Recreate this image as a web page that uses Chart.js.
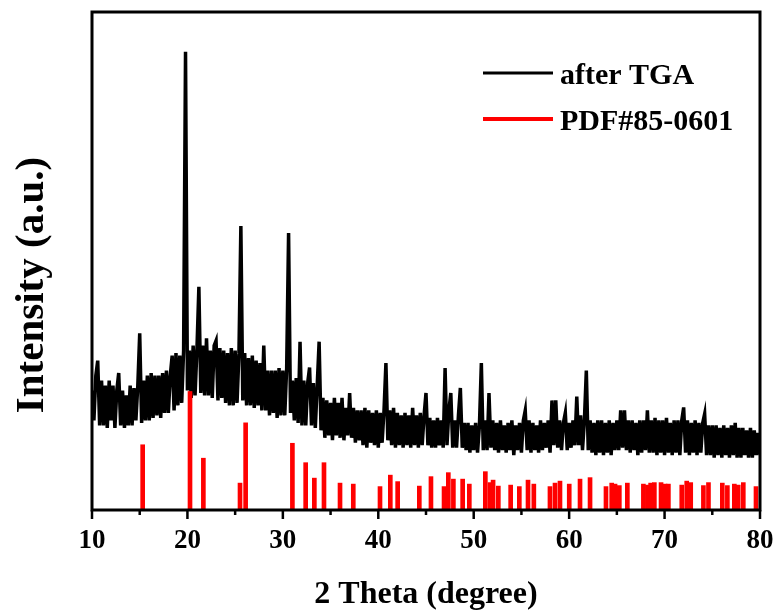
<!DOCTYPE html>
<html>
<head>
<meta charset="utf-8">
<script src="https://cdn.jsdelivr.net/npm/chart.js@4.4.1/dist/chart.umd.min.js"></script>
<style>
  html, body { margin: 0; padding: 0; background: #fff; }
  #chart { display: block; }
</style>
</head>
<body>
<canvas id="chart" width="779" height="614"></canvas>
<script>
// XRD pattern after TGA, one value every 0.2 degree from 10 to 80 (one row = one degree)
const thetaStart = 10;
const thetaStep = 0.2;
const afterTGA = [
  24, 18, 27, 30, 17,        // 10
  26, 17, 25, 16.5, 26,      // 11
  18, 25, 16.5, 24, 27.5,    // 12
  17, 24, 16.5, 23, 17,      // 13
  25, 17, 24.5, 18, 25,      // 14
  35.5, 17.5, 26, 18, 27,    // 15
  18, 27.5, 18.5, 27, 19,    // 16
  27, 18.5, 27.5, 19.5, 28,  // 17
  19.5, 27, 31, 20, 31.5,    // 18
  21, 31, 21.5, 32, 92,      // 19
  24, 32, 22.5, 33, 23,      // 20
  32.5, 44.8, 23.5, 33, 23,  // 21
  34.5, 23, 32, 22.5, 33,    // 22
  34, 22, 32.5, 22.5, 32,    // 23
  21.5, 31.5, 21, 32.5, 21,  // 24
  32, 21.5, 31.5, 57, 22,    // 25
  31.5, 21, 30.5, 21, 31,    // 26
  20.5, 30, 21, 29.5, 20,    // 27
  33, 20, 28, 19, 28,        // 28
  19.5, 28, 18.5, 28.5, 19,  // 29
  28, 19, 28.5, 55.6, 19.5,  // 30
  26, 18, 26.5, 17.5, 33.8,  // 31
  17, 26, 17, 25.5, 28.6,    // 32
  17, 25.5, 16.5, 25, 33.8,  // 33
  16, 22.5, 14.5, 22, 15,    // 34
  21.5, 14, 22.5, 15, 21.5,  // 35
  14.5, 22.5, 14, 20.5, 15,  // 36
  23.5, 14.5, 20.5, 13.5, 20,// 37
  14, 20, 13, 20.5, 12.5,    // 38
  20, 13.5, 19.5, 13, 20,    // 39
  12.5, 19.5, 13.5, 20, 29.5,// 40
  14, 20, 13, 20.5, 12.5,    // 41
  19.5, 13, 19, 12.5, 19.5,  // 42
  13, 19, 12.5, 20.5, 13,    // 43
  19, 12.5, 19.5, 13, 19,    // 44
  23.5, 13, 18.5, 12.5, 18,  // 45
  12.5, 18.5, 13, 18, 12.5,  // 46
  28.5, 13, 20, 23.5, 12.5,  // 47
  18, 12.5, 19, 24.5, 12.5,  // 48
  17.5, 12, 17.5, 11.5, 17,  // 49
  12, 17.5, 11.5, 17, 29.5,  // 50
  12, 18, 12, 23.5, 12.5,    // 51
  18, 12, 17.5, 11.5, 18,    // 52
  12, 17, 11.5, 17.5, 12,    // 53
  18, 11, 17, 12, 17.5,      // 54
  11.5, 18, 20, 12, 18,      // 55
  11.5, 17.5, 12, 17, 11.5,  // 56
  18, 12, 17.5, 12.5, 18,    // 57
  11.5, 22, 13, 22, 12.5,    // 58
  18, 12, 17.5, 19.5, 12,    // 59
  17.5, 12.5, 18, 13, 22.8,  // 60
  13, 19, 12, 18, 28,        // 61
  12, 18, 11.5, 17.5, 11,    // 62
  18, 11.5, 18, 11, 17.5,    // 63
  11.5, 18, 11, 17.5, 12,    // 64
  18, 12, 20, 12.5, 20,      // 65
  12, 18, 11.5, 18, 12,      // 66
  17.5, 11, 18, 11.5, 18,    // 67
  12, 20, 11.5, 18, 11.5,    // 68
  18.5, 11, 18, 11.5, 18,    // 69
  11, 18.5, 11.5, 17.5, 11,  // 70
  18, 11.5, 18, 11, 18,      // 71
  20.6, 11.5, 18, 11, 17.5,  // 72
  11.5, 18, 11, 17.5, 11.5,  // 73
  17.5, 19.3, 11, 17, 11,    // 74
  17, 10.5, 17, 11, 16.5,    // 75
  10.5, 17, 11, 16.5, 10.5,  // 76
  17, 11, 17.5, 10.5, 16.5,  // 77
  10.5, 16.5, 11, 16, 10.5,  // 78
  16.5, 10.5, 16, 11, 15.5,  // 79
  11                         // 80
];

// PDF#85-0601 reference lines
const pdfPositions = [
  15.31, 20.27, 21.67, 25.51, 26.1, 31.0, 32.39, 33.3, 34.31, 35.99,
  37.38, 40.18, 41.26, 42.03, 44.3, 45.52, 46.89, 47.34, 47.87, 48.84,
  49.54, 51.22, 51.71, 52.03, 52.58, 53.87, 54.78, 55.69, 56.3, 57.99,
  58.52, 59.04, 60.01, 61.14, 62.19, 63.86, 64.46, 64.81, 65.26, 66.1,
  67.78, 68.2, 68.54, 68.93, 69.63, 70.05, 70.4, 71.8, 72.32, 72.74,
  74.07, 74.6, 76.05, 76.58, 77.31, 77.72, 78.25, 79.58
];
const pdfIntensity = [
  13.1, 23.8, 10.4, 5.4, 17.5, 13.4, 9.5, 6.4, 9.5, 5.4,
  5.2, 4.7, 7.0, 5.7, 4.8, 6.7, 4.7, 7.5, 6.2, 6.2,
  5.2, 7.7, 5.5, 6.0, 4.8, 5.0, 4.7, 6.0, 5.2, 4.7,
  5.4, 5.8, 5.2, 6.2, 6.5, 4.7, 5.4, 5.2, 4.9, 5.4,
  5.2, 5.0, 5.4, 5.5, 5.5, 5.2, 5.2, 5.0, 5.8, 5.5,
  4.9, 5.5, 5.4, 4.9, 5.2, 5.0, 5.5, 4.7
];

const majorTicks = [10, 20, 30, 40, 50, 60, 70, 80];
const minorTicks = [15, 25, 35, 45, 55, 65, 75];
const seriesNames = ['after TGA', 'PDF#85-0601'];
const seriesColors = ['#000000', '#ff0000'];

const serif = '"Liberation Serif", "Times New Roman", serif';

// Frame, ticks, axis titles and legend
const framePlugin = {
  id: 'frame',
  afterDraw(chart) {
    const ctx = chart.ctx;
    const area = chart.chartArea;
    const xs = chart.scales.x;
    ctx.save();
    ctx.strokeStyle = '#000';
    ctx.lineWidth = 3;
    ctx.strokeRect(area.left, area.top, area.right - area.left, area.bottom - area.top);

    ctx.lineWidth = 2.5;
    majorTicks.forEach(v => {
      const px = xs.getPixelForValue(v);
      ctx.beginPath();
      ctx.moveTo(px, area.bottom);
      ctx.lineTo(px, area.bottom + 9);
      ctx.stroke();
    });
    minorTicks.forEach(v => {
      const px = xs.getPixelForValue(v);
      ctx.beginPath();
      ctx.moveTo(px, area.bottom);
      ctx.lineTo(px, area.bottom + 5);
      ctx.stroke();
    });

    // axis titles
    ctx.fillStyle = '#000';
    ctx.textAlign = 'center';
    ctx.textBaseline = 'alphabetic';
    ctx.font = 'bold 32px ' + serif;
    ctx.fillText('2 Theta (degree)', (area.left + area.right) / 2, 603);

    ctx.save();
    ctx.translate(43, 285);
    ctx.rotate(-Math.PI / 2);
    ctx.font = 'bold 41px ' + serif;
    ctx.fillText('Intensity (a.u.)', 0, 0);
    ctx.restore();

    // legend
    ctx.textAlign = 'left';
    ctx.font = 'bold 30px ' + serif;
    const legendY = [73, 119];
    seriesNames.forEach((name, i) => {
      ctx.strokeStyle = seriesColors[i];
      ctx.lineWidth = i === 0 ? 3 : 4;
      ctx.beginPath();
      ctx.moveTo(483, legendY[i]);
      ctx.lineTo(553, legendY[i]);
      ctx.stroke();
      ctx.fillStyle = '#000';
      ctx.fillText(name, 560, legendY[i] + 11);
    });
    ctx.restore();
  }
};

const tgaPoints = afterTGA.map((v, i) => ({ x: +(thetaStart + i * thetaStep).toFixed(1), y: v }));
const pdfPoints = pdfPositions.map((x, i) => ({ x: x, y: pdfIntensity[i] }));

new Chart(document.getElementById('chart'), {
  type: 'line',
  data: {
    datasets: [
      {
        type: 'bar',
        label: seriesNames[1],
        data: pdfPoints,
        backgroundColor: seriesColors[1],
        borderWidth: 0,
        barThickness: 4,
        order: 0
      },
      {
        type: 'line',
        label: seriesNames[0],
        data: tgaPoints,
        borderColor: seriesColors[0],
        borderWidth: 3.5,
        pointRadius: 0,
        tension: 0,
        fill: false,
        order: 1
      }
    ]
  },
  options: {
    responsive: false,
    devicePixelRatio: 1,
    animation: false,
    layout: { padding: { left: 92, right: 19, top: 12, bottom: 0 } },
    plugins: {
      legend: { display: false },
      tooltip: { enabled: false }
    },
    scales: {
      x: {
        type: 'linear',
        min: 10,
        max: 80,
        offset: false,
        grid: { display: false },
        border: { display: false },
        ticks: {
          stepSize: 10,
          padding: 7,
          color: '#000',
          maxRotation: 0,
          font: { family: serif, size: 27, weight: 'bold' }
        },
        afterFit(scale) {
          scale.height = 104;
          scale.paddingLeft = 0;
          scale.paddingRight = 0;
        }
      },
      y: {
        display: false,
        min: 0,
        max: 100
      }
    }
  },
  plugins: [framePlugin]
});
</script>
</body>
</html>
